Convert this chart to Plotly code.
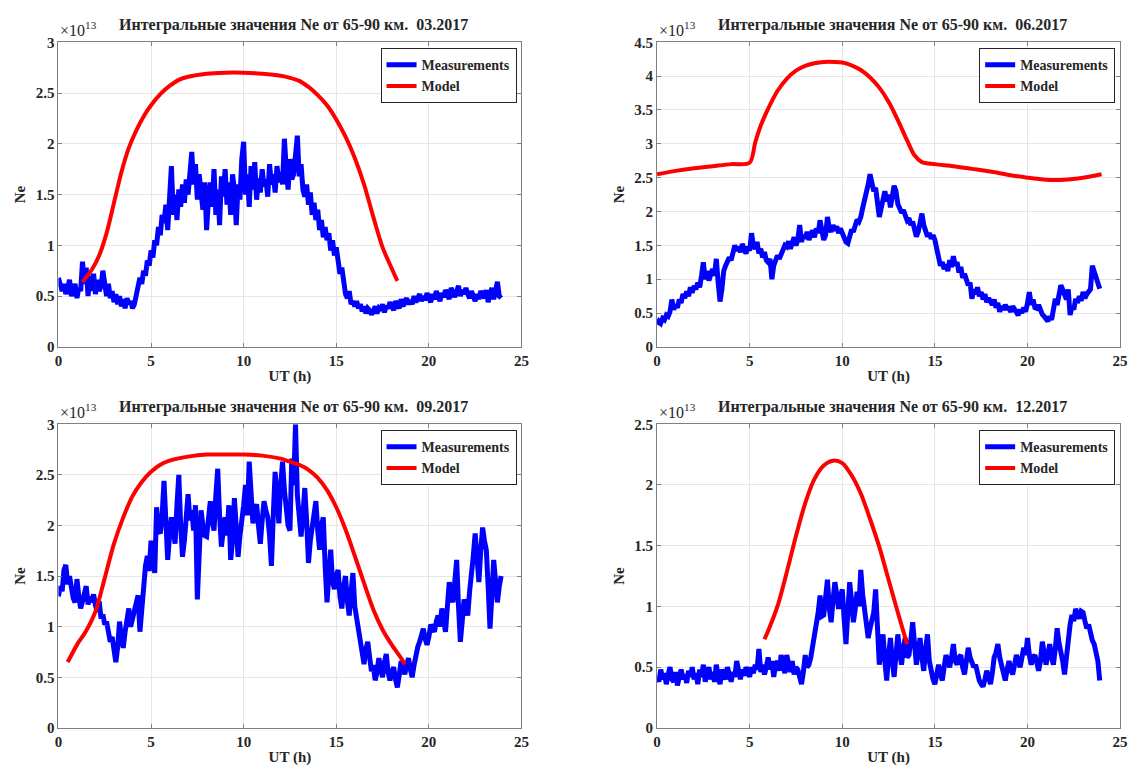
import numpy as np
import plotly.graph_objects as go

# ---------------- data (values in units of 1e13) ----------------
hours = np.round(np.arange(0, 24, 0.1), 1)

meas_03 = [
    0.68,0.60,0.55,0.62,0.52,0.58,0.66,0.50,0.56,0.62,
    0.48,0.58,0.55,0.84,0.62,0.78,0.50,0.70,0.55,0.72,
    0.52,0.66,0.55,0.60,0.75,0.58,0.50,0.62,0.48,0.55,
    0.44,0.52,0.42,0.50,0.40,0.47,0.38,0.48,0.42,0.45,
    0.38,0.42,0.50,0.55,0.68,0.62,0.75,0.70,0.85,0.80,
    0.95,0.88,1.05,1.00,1.18,1.10,1.30,1.22,1.40,1.15,
    1.45,1.78,1.30,1.50,1.25,1.55,1.38,1.60,1.42,1.65,
    1.50,1.72,1.92,1.60,1.80,1.45,1.70,1.52,1.35,1.62,
    1.15,1.45,1.62,1.38,1.75,1.30,1.55,1.20,1.68,1.48,
    1.75,1.40,1.62,1.30,1.70,1.55,1.20,1.60,1.45,1.85,
    2.02,1.50,1.70,1.38,1.78,1.55,1.82,1.45,1.66,1.52,
    1.75,1.58,1.65,1.48,1.80,1.60,1.70,1.52,1.78,1.62,
    1.72,1.60,2.05,1.75,1.55,1.85,1.65,1.70,1.95,2.08,
    1.68,1.80,1.55,1.48,1.60,1.40,1.52,1.30,1.42,1.25,
    1.35,1.15,1.25,1.08,1.18,1.05,1.12,0.95,1.05,0.90,
    0.98,0.82,0.72,0.78,0.60,0.52,0.48,0.55,0.42,0.45,
    0.40,0.45,0.38,0.42,0.35,0.40,0.33,0.38,0.36,0.32,
    0.35,0.40,0.33,0.38,0.36,0.42,0.34,0.40,0.38,0.44,
    0.40,0.36,0.45,0.42,0.38,0.47,0.40,0.44,0.48,0.42,
    0.46,0.42,0.50,0.44,0.48,0.52,0.45,0.50,0.46,0.53,
    0.48,0.44,0.52,0.47,0.55,0.50,0.45,0.53,0.49,0.56,
    0.50,0.47,0.58,0.52,0.49,0.55,0.60,0.50,0.56,0.52,
    0.58,0.52,0.48,0.55,0.50,0.45,0.52,0.47,0.55,0.50,
    0.48,0.56,0.44,0.52,0.58,0.47,0.55,0.64,0.50,0.48,
]

meas_06 = [
    0.33,0.38,0.35,0.42,0.40,0.47,0.45,0.52,0.70,0.55,
    0.62,0.58,0.70,0.65,0.78,0.72,0.82,0.75,0.88,0.80,
    0.90,0.85,0.95,0.88,1.05,1.25,1.00,1.12,0.98,1.08,
    1.15,1.05,1.30,0.95,0.67,0.85,1.12,1.20,1.25,1.32,
    1.28,1.38,1.50,1.42,1.48,1.40,1.52,1.45,1.38,1.48,
    1.42,1.68,1.50,1.45,1.55,1.38,1.45,1.32,1.40,1.28,
    1.25,1.30,1.00,1.20,1.28,1.35,1.30,1.38,1.42,1.50,
    1.48,1.56,1.45,1.52,1.62,1.50,1.58,1.80,1.55,1.65,
    1.60,1.70,1.58,1.66,1.72,1.62,1.75,1.68,1.87,1.72,
    1.58,1.65,1.92,1.75,1.70,1.80,1.72,1.78,1.68,1.75,
    1.68,1.62,1.55,1.53,1.65,1.73,1.70,1.80,1.88,1.85,
    1.92,2.05,2.15,2.26,2.40,2.55,2.45,2.30,2.35,2.10,
    1.92,2.05,2.20,2.30,2.15,2.25,2.06,2.18,2.38,2.30,
    2.11,2.05,1.98,2.02,1.92,1.87,1.90,1.80,1.85,1.72,
    1.63,1.70,1.85,1.97,1.80,1.72,1.63,1.68,1.60,1.65,
    1.58,1.45,1.30,1.20,1.25,1.15,1.22,1.12,1.28,1.18,
    1.34,1.20,1.25,1.10,1.18,1.02,1.08,0.98,0.91,0.95,
    0.71,0.85,0.78,0.88,0.75,0.81,0.70,0.78,0.66,0.72,
    0.67,0.62,0.70,0.58,0.65,0.52,0.60,0.55,0.62,0.57,
    0.57,0.52,0.60,0.55,0.50,0.47,0.55,0.50,0.58,0.52,
    0.65,0.81,0.62,0.70,0.58,0.57,0.62,0.52,0.48,0.45,
    0.42,0.38,0.45,0.40,0.55,0.71,0.62,0.80,0.91,0.85,
    0.76,0.70,0.85,0.47,0.60,0.55,0.71,0.65,0.75,0.68,
    0.81,0.72,0.78,0.81,0.85,1.20,1.10,1.00,0.92,0.86,
]

meas_09 = [
    1.30,1.40,1.35,1.56,1.61,1.42,1.50,1.35,1.28,1.24,
    1.47,1.30,1.18,1.25,1.35,1.40,1.22,1.30,1.24,1.32,
    1.21,1.15,1.25,1.08,1.12,1.02,1.05,0.92,0.85,0.90,
    0.73,0.65,0.80,1.05,0.90,0.79,0.95,1.10,1.18,1.00,
    1.08,1.15,1.25,1.31,0.95,1.20,1.45,1.60,1.70,1.55,
    1.85,1.70,1.53,2.18,1.95,1.92,2.10,2.44,2.00,1.66,
    1.90,2.08,1.95,1.82,2.20,2.50,2.00,1.69,1.85,2.10,
    2.31,2.05,2.15,1.95,2.20,1.27,1.75,2.15,2.00,1.90,
    1.89,2.10,2.24,2.05,1.95,2.30,2.56,2.10,1.79,1.95,
    2.08,1.90,2.20,1.66,1.85,2.27,2.05,1.69,1.90,2.02,
    2.20,2.40,2.10,2.63,2.30,2.02,2.15,2.21,2.00,1.82,
    2.05,2.24,2.15,2.08,1.90,1.60,2.10,2.53,2.30,2.02,
    2.40,2.63,2.35,2.15,2.00,1.95,2.66,2.40,3.00,2.30,
    2.08,1.89,2.10,2.37,2.05,1.63,1.85,1.98,2.10,2.24,
    1.95,1.76,2.00,2.08,1.60,1.24,1.50,1.76,1.45,1.37,
    1.50,1.56,1.30,1.18,1.40,1.50,1.25,1.11,1.35,1.53,
    1.20,1.08,0.95,0.85,0.75,0.63,0.78,0.85,0.70,0.56,
    0.62,0.47,0.55,0.69,0.58,0.50,0.65,0.73,0.55,0.47,
    0.55,0.60,0.48,0.40,0.52,0.66,0.58,0.53,0.62,0.69,
    0.58,0.50,0.62,0.73,0.80,0.85,0.92,0.98,0.88,0.82,
    0.90,1.02,0.98,0.95,1.05,1.11,1.00,1.18,1.05,0.95,
    1.20,1.44,1.30,1.24,1.45,1.66,1.20,0.85,1.05,1.27,
    1.20,1.11,1.35,1.50,1.70,1.92,1.60,1.44,1.75,1.98,
    1.85,1.76,1.40,0.98,1.30,1.66,1.45,1.24,1.40,1.50,
]

meas_12 = [
    0.42,0.38,0.48,0.40,0.45,0.36,0.44,0.50,0.40,0.38,
    0.46,0.35,0.42,0.48,0.40,0.44,0.37,0.47,0.42,0.50,
    0.40,0.45,0.36,0.48,0.42,0.52,0.38,0.44,0.50,0.40,
    0.46,0.38,0.52,0.42,0.36,0.48,0.44,0.40,0.50,0.43,
    0.38,0.46,0.42,0.55,0.45,0.40,0.48,0.43,0.50,0.46,
    0.42,0.50,0.45,0.52,0.48,0.65,0.46,0.52,0.44,0.50,
    0.58,0.48,0.55,0.42,0.52,0.55,0.47,0.60,0.50,0.45,
    0.60,0.52,0.46,0.55,0.44,0.50,0.48,0.42,0.36,0.46,
    0.60,0.50,0.52,0.58,0.66,0.75,0.87,0.95,1.09,0.92,
    0.93,1.05,1.22,0.98,0.87,1.05,1.20,1.10,0.98,1.08,
    1.14,0.90,0.69,0.95,1.20,1.05,0.87,0.98,1.12,1.00,
    1.30,1.10,0.95,0.85,0.74,0.82,0.87,0.95,1.14,0.80,
    0.52,0.65,0.77,0.55,0.39,0.60,0.74,0.55,0.42,0.60,
    0.77,0.62,0.52,0.66,0.74,0.58,0.60,0.72,0.87,0.70,
    0.52,0.62,0.74,0.58,0.47,0.65,0.77,0.55,0.44,0.40,
    0.36,0.45,0.52,0.44,0.39,0.50,0.60,0.55,0.50,0.58,
    0.69,0.55,0.52,0.58,0.60,0.50,0.44,0.55,0.66,0.58,
    0.55,0.50,0.52,0.45,0.39,0.36,0.34,0.40,0.47,0.42,
    0.36,0.45,0.58,0.62,0.69,0.58,0.52,0.45,0.39,0.48,
    0.55,0.48,0.44,0.52,0.60,0.55,0.50,0.58,0.66,0.60,
    0.74,0.60,0.52,0.58,0.60,0.54,0.47,0.55,0.71,0.62,
    0.52,0.60,0.69,0.58,0.52,0.65,0.82,0.70,0.63,0.55,
    0.44,0.60,0.77,0.85,0.93,0.88,0.98,0.92,0.90,0.96,
    0.95,0.88,0.82,0.85,0.77,0.72,0.69,0.62,0.55,0.39,
]

model_03_t = [1.3, 1.8, 2.2, 2.6, 3.0, 3.4, 3.8, 4.2, 4.6, 5.0, 5.5, 6.0, 6.5, 7.0, 8.0, 9.0, 10.0,
              11.0, 12.0, 12.5, 13.0, 13.5, 14.0, 14.5, 15.0, 15.5, 16.0, 16.5, 17.0, 17.5, 18.0, 18.3]
model_03_v = [0.64, 0.76, 0.90, 1.12, 1.42, 1.72, 1.96, 2.13, 2.27, 2.38, 2.49, 2.57, 2.63, 2.66, 2.69, 2.70, 2.70,
              2.69, 2.67, 2.65, 2.62, 2.56, 2.48, 2.38, 2.24, 2.07, 1.86, 1.60, 1.28, 0.98, 0.77, 0.65]

model_06_t = [0, 1, 2, 3, 4, 5, 5.3, 5.6, 6, 6.5, 7, 7.5, 8, 8.5, 9, 9.6, 10, 10.5, 11, 11.5, 12, 12.5,
              13, 13.5, 13.9, 14.3, 15, 16, 17, 18, 19, 20, 21, 22, 23, 24]
model_06_v = [2.55, 2.60, 2.64, 2.67, 2.70, 2.72, 3.02, 3.27, 3.52, 3.78, 3.96, 4.08, 4.15, 4.19, 4.21, 4.21,
              4.20, 4.16, 4.09, 3.98, 3.83, 3.62, 3.35, 3.05, 2.83, 2.73, 2.70, 2.67, 2.63, 2.59, 2.54,
              2.50, 2.47, 2.47, 2.50, 2.55]

model_09_t = [0.5, 1.0, 1.5, 2.0, 2.5, 3.0, 3.5, 4.0, 4.5, 5.0, 5.5, 6.0, 7.0, 8.0, 9.0, 10.0, 11.0,
              12.0, 12.5, 13.0, 13.5, 14.0, 14.5, 15.0, 15.5, 16.0, 16.5, 17.0, 17.5, 18.0, 18.5, 18.7]
model_09_v = [0.65, 0.82, 0.96, 1.15, 1.48, 1.82, 2.08, 2.29, 2.43, 2.53, 2.60, 2.64, 2.68, 2.70, 2.70,
              2.70, 2.69, 2.66, 2.63, 2.60, 2.55, 2.47, 2.35, 2.18, 1.96, 1.70, 1.43, 1.17, 0.97, 0.82,
              0.69, 0.63]

model_12_t = [5.8, 6.0, 6.5, 7.0, 7.5, 8.0, 8.5, 9.0, 9.5, 10.0, 10.5, 11.0, 11.5, 12.0, 12.5, 13.0, 13.5]
model_12_v = [0.73, 0.80, 1.00, 1.28, 1.58, 1.85, 2.05, 2.16, 2.20, 2.18, 2.08, 1.93, 1.72, 1.49, 1.22,
              0.95, 0.69]

titles = ["Интегральные значения Ne от 65-90 км.\u00a0\u00a003.2017",
          "Интегральные значения Ne от 65-90 км.\u00a0\u00a006.2017",
          "Интегральные значения Ne от 65-90 км.\u00a0\u00a009.2017",
          "Интегральные значения Ne от 65-90 км.\u00a0\u00a012.2017"]
y_max = [3, 4.5, 3, 2.5]
x_ticks = [0, 5, 10, 15, 20, 25]

# ---------------- layout geometry ----------------
W, H = 1138, 778
FONT = "Liberation Serif"
x_dom = [(55 / W, 523 / W), (660 / W, 1128 / W)]
y_dom = [(1 - 346 / H, 1 - 35 / H), (1 - 735 / H, 1 - 425 / H)]

panels = [
    (meas_03, model_03_t, model_03_v),
    (meas_06, model_06_t, model_06_v),
    (meas_09, model_09_t, model_09_v),
    (meas_12, model_12_t, model_12_v),
]


def fmt(v):
    return "<b>" + (f"{v:g}") + "</b>"


fig = go.Figure()
layout = dict(
    width=W, height=H, autosize=False,
    margin=dict(l=0, r=0, t=0, b=0),
    paper_bgcolor="white", plot_bgcolor="white",
    font=dict(family=FONT, size=14, color="#262626"),
    annotations=[],
)

for i, (meas, mt, mv) in enumerate(panels):
    n = i + 1
    xa = "x" if n == 1 else f"x{n}"
    ya = "y" if n == 1 else f"y{n}"
    lg = "legend" if n == 1 else f"legend{n}"
    col, row = i % 2, i // 2
    fig.add_trace(go.Scatter(x=hours, y=meas, mode="lines", name="<b>Measurements</b>",
                             line=dict(color="#0000ff", width=5), xaxis=xa, yaxis=ya, legend=lg))
    fig.add_trace(go.Scatter(x=mt, y=mv, mode="lines", name="<b>Model</b>",
                             line=dict(color="#ff0000", width=4, shape="spline", smoothing=0.8),
                             xaxis=xa, yaxis=ya, legend=lg))

    axis_common = dict(
        showgrid=True, gridcolor="#e6e6e6", gridwidth=1,
        showline=True, linecolor="#808080", linewidth=1, mirror="ticks",
        ticks="inside", ticklen=4, tickcolor="#808080",
        zeroline=False,
        tickfont=dict(family=FONT, size=15, color="#262626"),
    )
    xkey = "xaxis" if n == 1 else f"xaxis{n}"
    ykey = "yaxis" if n == 1 else f"yaxis{n}"
    yt = list(np.round(np.arange(0, y_max[i] + 0.01, 0.5), 1))
    layout[xkey] = dict(axis_common, domain=list(x_dom[col]), range=[0, 25],
                        tickvals=x_ticks, ticktext=[fmt(v) for v in x_ticks], anchor=ya,
                        title=dict(text="<b>UT (h)</b>", standoff=2,
                                   font=dict(family=FONT, size=15, color="#262626")))
    layout[ykey] = dict(axis_common, domain=list(y_dom[row]), range=[0, y_max[i]],
                        tickvals=yt, ticktext=[fmt(v) for v in yt], anchor=xa,
                        title=dict(text="<b>Ne</b>", standoff=6,
                                   font=dict(family=FONT, size=15, color="#262626")))

    x0, x1 = x_dom[col]
    y0, y1 = y_dom[row]
    layout[lg] = dict(
        x=x1 - 5 / W, y=y1 - 6 / H, xanchor="right", yanchor="top",
        bgcolor="white", bordercolor="#262626", borderwidth=1,
        font=dict(family=FONT, size=14, color="#262626"),
        tracegroupgap=0, itemwidth=30,
    )
    layout["annotations"].append(dict(
        text="<b>" + titles[i] + "</b>", xref="paper", yref="paper",
        x=(x0 + x1) / 2 + 4 / W, y=y1 + 18 / H, xanchor="center", yanchor="middle",
        showarrow=False, font=dict(family=FONT, size=16, color="#262626")))
    layout["annotations"].append(dict(
        text="×10<sup>13</sup>", xref="paper", yref="paper",
        x=x0 + 0 / W, y=y1 + 1 / H, xanchor="left", yanchor="bottom",
        showarrow=False, font=dict(family=FONT, size=16, color="#262626")))

fig.update_layout(**layout)
fig.write_html("out.html")
